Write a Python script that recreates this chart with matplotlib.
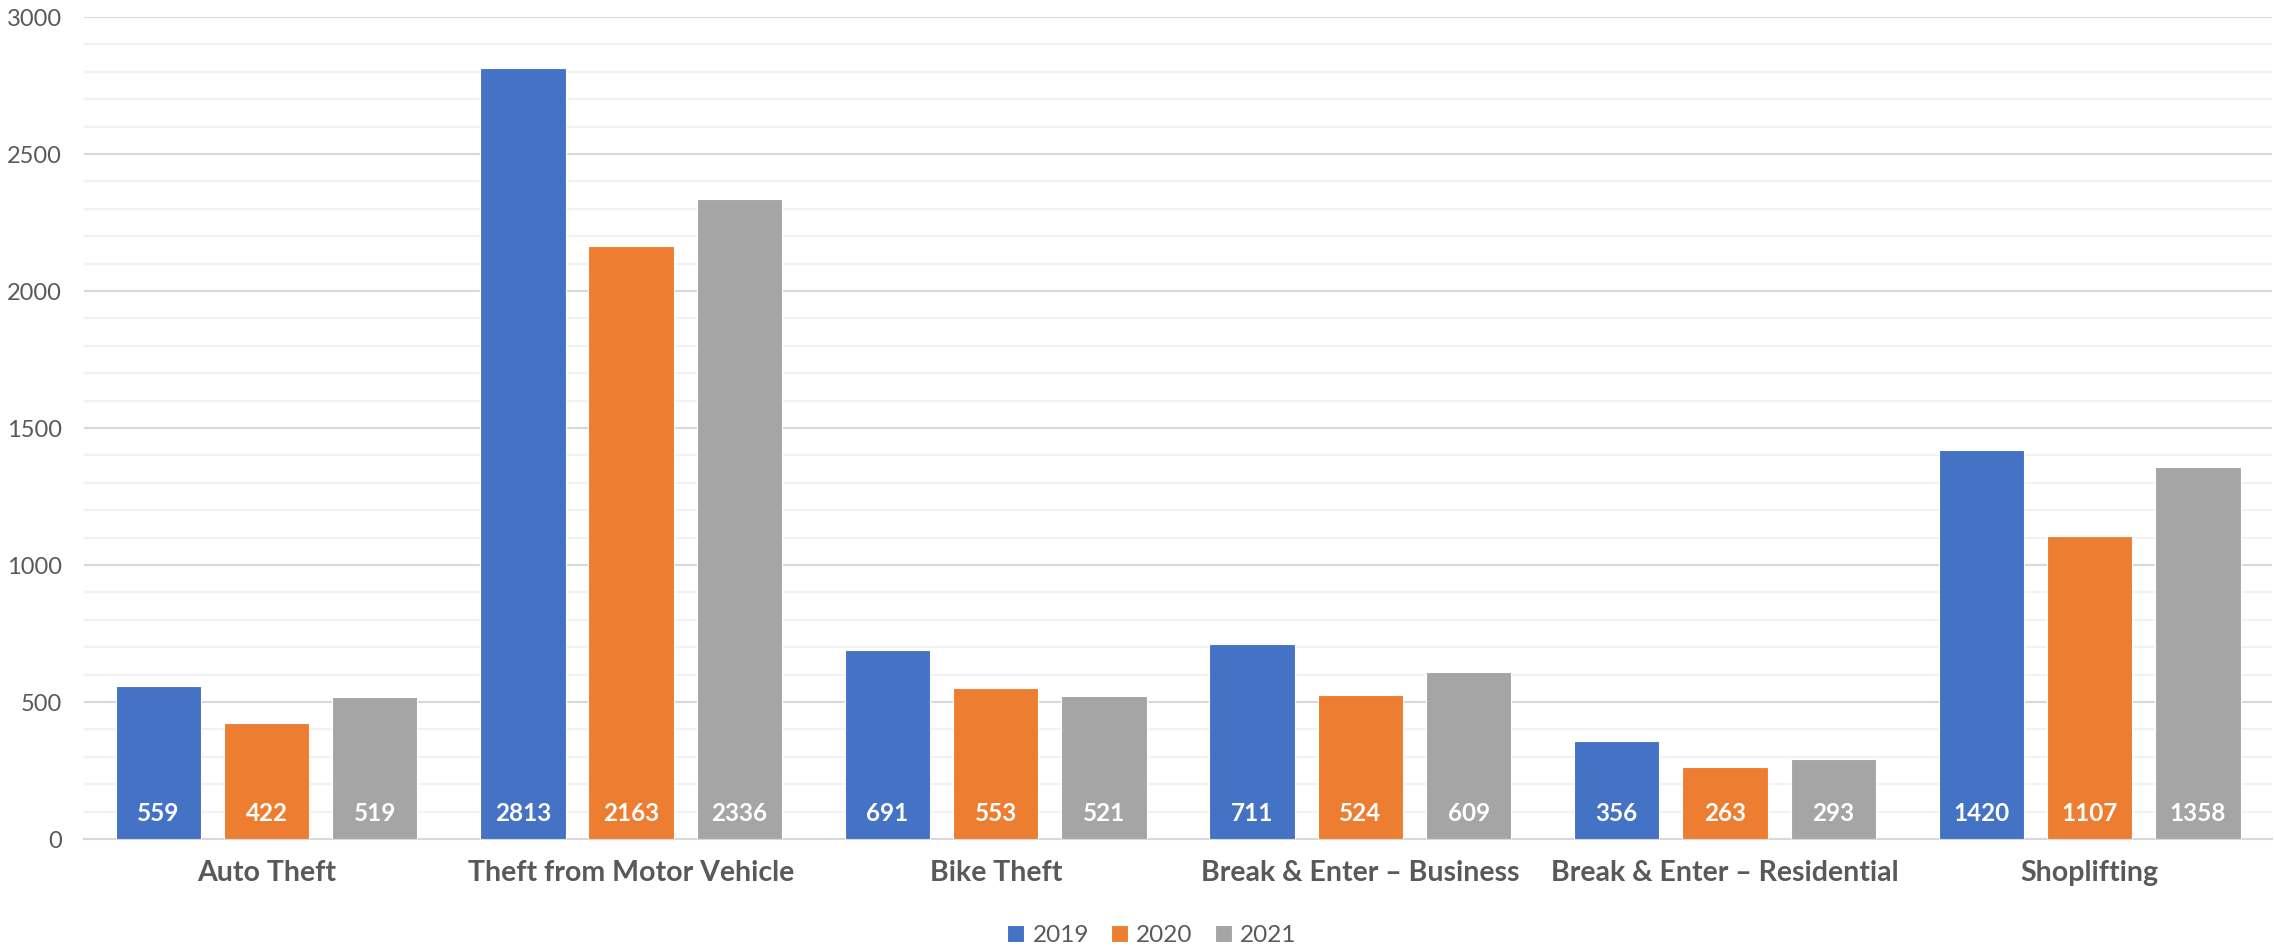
import numpy as np
import matplotlib.pyplot as plt
from matplotlib.ticker import MultipleLocator

categories = [
    "Auto Theft",
    "Theft from Motor Vehicle",
    "Bike Theft",
    "Break & Enter – Business",
    "Break & Enter – Residential",
    "Shoplifting",
]
years = ["2019", "2020", "2021"]
v2019 = [559, 2813, 691, 711, 356, 1420]
v2020 = [422, 2163, 553, 524, 263, 1107]
v2021 = [519, 2336, 521, 609, 293, 1358]
colors = ["#4472C4", "#ED7D31", "#A5A5A5"]


def main():
    plt.rcParams["font.family"] = ["Lato", "DejaVu Sans"]
    fig = plt.figure(figsize=(22.75, 9.47), dpi=100)
    ax = fig.add_axes([0.037, 0.114, 0.9617, 0.868])

    x = np.arange(len(categories))
    width = 0.234
    step = 0.297
    series = [v2019, v2020, v2021]
    for i, (vals, year, c) in enumerate(zip(series, years, colors)):
        pos = x + (i - 1) * step
        bars = ax.bar(pos, vals, width, color=c, label=year,
                      edgecolor="white", linewidth=0.8, zorder=3)
        for b, v in zip(bars, vals):
            ax.text(b.get_x() + b.get_width() / 2, 92, str(v),
                    ha="center", va="center", color="white",
                    fontsize=17.5, fontweight="bold", zorder=4)

    ax.set_xlim(-0.5, len(categories) - 0.5)
    ax.set_ylim(0, 3000)
    ax.yaxis.set_major_locator(MultipleLocator(500))
    ax.yaxis.set_minor_locator(MultipleLocator(100))
    ax.grid(axis="y", which="major", color="#D9D9D9", linewidth=1.5, zorder=1)
    ax.grid(axis="y", which="minor", color="#F2F2F2", linewidth=1.5, zorder=0)
    for s in ["top", "right", "left"]:
        ax.spines[s].set_visible(False)
    ax.spines["bottom"].set_color("#D9D9D9")
    ax.spines["bottom"].set_linewidth(1.5)

    ax.set_xticks(x)
    ax.set_xticklabels(categories, fontsize=20.5, fontweight="bold", color="#595959")
    ax.tick_params(axis="x", length=0, pad=15)
    ax.tick_params(axis="y", which="both", length=0, pad=16,
                   labelsize=17, labelcolor="#595959")

    ax.legend(loc="upper center", bbox_to_anchor=(0.488, -0.078), ncol=3,
              frameon=False, fontsize=17.5, handlelength=0.7, handleheight=0.7,
              columnspacing=0.9, handletextpad=0.35, labelcolor="#595959")

    fig.savefig("out.png", dpi=100)


if __name__ == "__main__":
    main()
